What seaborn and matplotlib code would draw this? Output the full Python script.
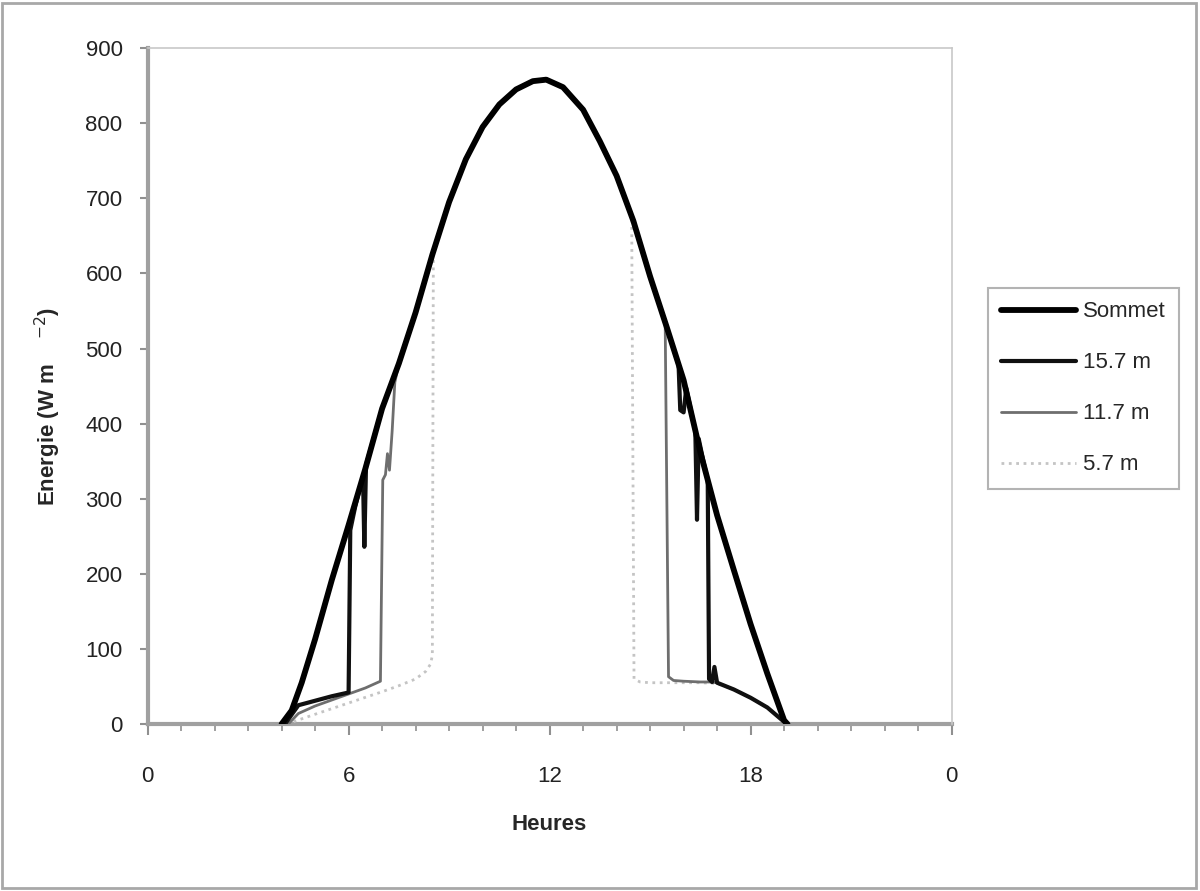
import pandas as pd
import matplotlib
matplotlib.use("Agg")
import matplotlib.pyplot as plt
import seaborn as sns
from matplotlib.patches import Rectangle
from matplotlib.ticker import MultipleLocator

# Hours / energy (W m-2)
sommet_h = [4.0, 4.3, 4.6, 5.0, 5.5, 6.0, 6.5, 7.0, 7.5, 8.0, 8.5, 9.0, 9.5, 10.0, 10.5, 11.0, 11.5, 11.9,
            12.4, 13.0, 13.5, 14.0, 14.5, 15.0, 15.5, 16.0, 16.5, 17.0, 17.5, 18.0, 18.5, 19.0, 19.1]
sommet_w = [0, 18, 55, 113, 192, 265, 340, 420, 480, 548, 625, 695, 752, 795, 825, 845, 856, 858,
            848, 818, 776, 730, 670, 596, 528, 458, 362, 278, 205, 133, 67, 5, 0]

m157_h = [4.1, 4.5, 5.0, 5.5, 6.0, 6.05, 6.2, 6.43, 6.47, 6.52, 7.0, 7.5, 8.0, 8.5, 9.0, 9.5, 10.0, 10.5,
          11.0, 11.5, 11.9, 12.4, 13.0, 13.5, 14.0, 14.5, 15.0, 15.5, 15.85, 15.9, 16.0, 16.08, 16.35,
          16.4, 16.45, 16.6, 16.72, 16.76, 16.85, 16.92, 17.0, 17.5, 18.0, 18.5, 19.0, 19.1]
m157_w = [0, 25, 31, 37, 42, 258, 290, 330, 236, 345, 420, 480, 548, 625, 695, 752, 795, 825,
          845, 856, 858, 848, 818, 776, 730, 670, 596, 528, 478, 418, 415, 447, 390,
          272, 380, 348, 325, 60, 56, 76, 55, 46, 35, 22, 3, 0]

m117_h = [4.2, 4.5, 5.0, 5.5, 6.0, 6.5, 6.95, 7.02, 7.1, 7.16, 7.22, 7.3, 7.38, 7.5, 8.0, 8.5, 9.0, 9.5,
          10.0, 10.5, 11.0, 11.5, 11.9, 12.4, 13.0, 13.5, 14.0, 14.5, 15.0, 15.45, 15.55, 15.7, 16.0,
          16.5, 16.8, 17.0, 17.5, 18.0, 18.5, 19.0, 19.1]
m117_w = [0, 14, 24, 32, 40, 48, 57, 325, 332, 360, 338, 390, 455, 480, 548, 625, 695, 752,
          795, 825, 845, 856, 858, 848, 818, 776, 730, 670, 596, 535, 63, 58, 57,
          56, 56, 55, 46, 35, 22, 3, 0]

m57_h = [4.15, 5.0, 6.0, 7.0, 7.5, 8.0, 8.3, 8.45, 8.5, 8.53, 9.0, 9.5, 10.0, 10.5, 11.0, 11.5, 11.9,
         12.4, 13.0, 13.5, 14.0, 14.45, 14.52, 14.7, 15.0, 15.5, 16.0, 16.5, 17.0, 17.5, 18.0, 18.5,
         19.0, 19.1]
m57_w = [0, 13, 28, 43, 51, 60, 70, 80, 92, 628, 695, 752, 795, 825, 845, 856, 858,
         848, 818, 776, 730, 676, 60, 56, 55, 55, 55, 55, 54, 46, 35, 22, 3, 0]

x_ticks = [0, 6, 12, 18, 24]
x_tick_labels = ["0", "6", "12", "18", "0"]

sns.set_style("white")
plt.rcParams["font.family"] = ["Liberation Sans", "DejaVu Sans"]

fig, ax = plt.subplots(figsize=(12, 8.91), dpi=100)
fig.subplots_adjust(left=0.123, right=0.793, bottom=0.1874, top=0.946)

# series: (label, hours, values, color, width, style, zorder)
series = [
    ("5.7 m", m57_h, m57_w, "#c4c4c4", 2.0, ":", 2),
    ("11.7 m", m117_h, m117_w, "#6e6e6e", 2.0, "-", 3),
    ("15.7 m", m157_h, m157_w, "#101010", 3.0, "-", 4),
    ("Sommet", sommet_h, sommet_w, "#000000", 4.2, "-", 5),
]
handles = {}
for name, hh, ww, col, lw, ls, z in series:
    df = pd.DataFrame({"Heures": hh, "Energie": ww})
    sns.lineplot(data=df, x="Heures", y="Energie", sort=False, estimator=None,
                 color=col, linewidth=lw, linestyle=ls, zorder=z, ax=ax)
    handles[name] = ax.lines[-1]

ax.set_xlim(0, 24)
ax.set_ylim(0, 900)
ax.set_xticks(x_ticks)
ax.set_xticklabels(x_tick_labels)
ax.xaxis.set_minor_locator(MultipleLocator(1))
ax.set_yticks(range(0, 901, 100))

for side in ["left", "bottom"]:
    ax.spines[side].set_color("#a0a0a0")
    ax.spines[side].set_linewidth(3)
    ax.spines[side].set_zorder(1)
for side in ["top", "right"]:
    ax.spines[side].set_color("#c8c8c8")
    ax.spines[side].set_linewidth(1.2)

ax.tick_params(axis="x", which="major", direction="out", length=8, width=1.5,
               color="#909090", labelsize=16, pad=22, bottom=True, labelcolor="#222222")
ax.tick_params(axis="x", which="minor", direction="out", length=5, width=1.2,
               color="#909090", bottom=True)
ax.tick_params(axis="y", which="major", direction="out", length=6, width=1.5,
               color="#909090", labelsize=16, pad=12, left=True, labelcolor="#222222")

ax.set_xlabel("Heures", fontsize=16, fontweight="bold", labelpad=20)
ylab = ax.set_ylabel("Energie (W m    $^{-2}$)", fontsize=16, fontweight="bold", labelpad=16)
ylab.set_y(0.47)

order = ["Sommet", "15.7 m", "11.7 m", "5.7 m"]
leg = fig.legend([handles[k] for k in order], order, loc="center left",
                 bbox_to_anchor=(0.823, 0.564), fontsize=16, frameon=True, fancybox=False,
                 handlelength=3.4, labelspacing=1.35, borderpad=0.6, handletextpad=0.3,
                 borderaxespad=0)
leg.get_frame().set_edgecolor("#a0a0a0")
leg.get_frame().set_linewidth(1.5)

fig.patches.append(Rectangle((0.002, 0.003), 0.995, 0.994, transform=fig.transFigure,
                             fill=False, edgecolor="#a8a8a8", linewidth=2))

fig.savefig("out.png", dpi=100)
